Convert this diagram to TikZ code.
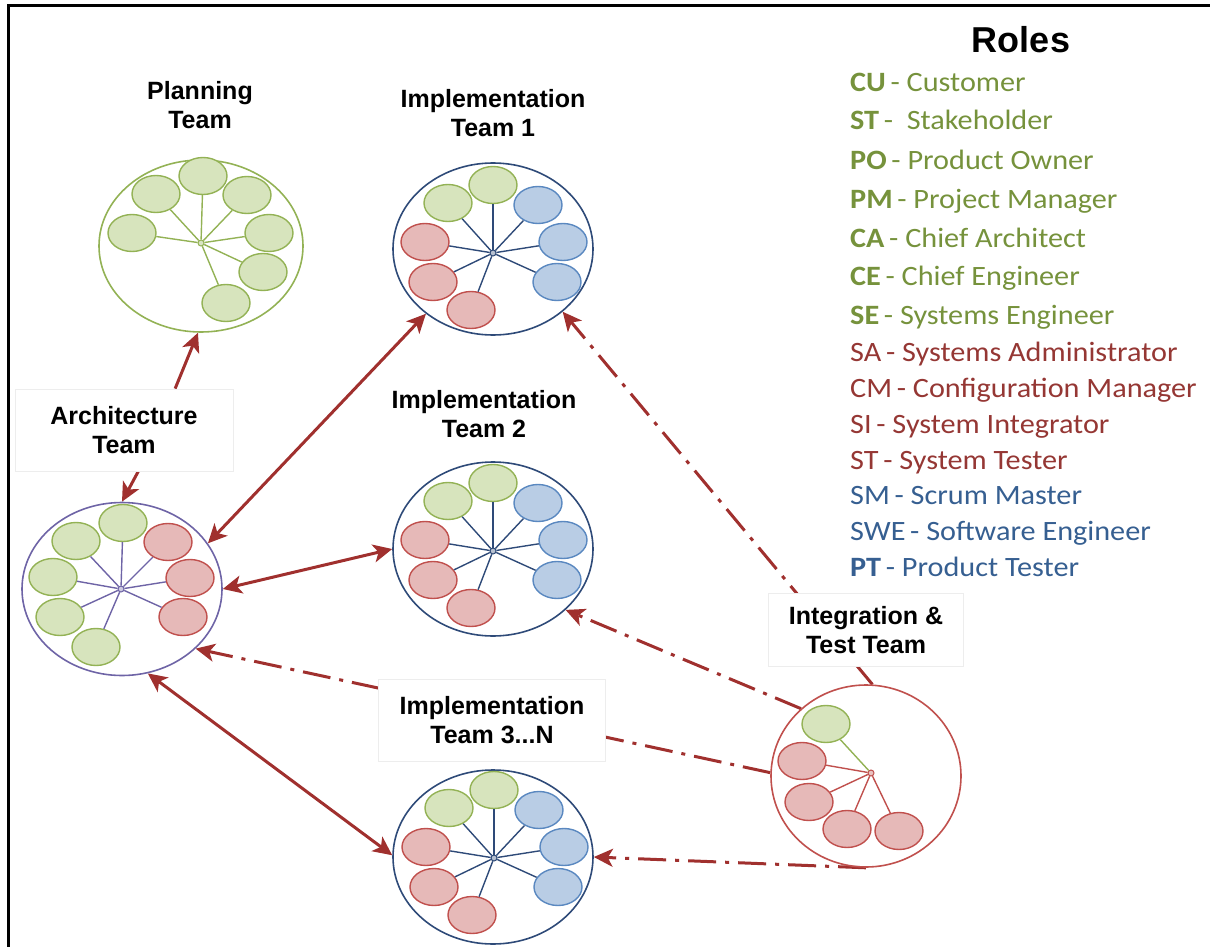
\documentclass[tikz,border=0pt]{standalone}
\usepackage{fontspec}
\setmainfont{Liberation Sans}
\newfontfamily\legendfont[FakeStretch=1.08]{Carlito}
\usetikzlibrary{shapes.geometric,arrows.meta}

\definecolor{fillgrn}{HTML}{D7E4BD}
\definecolor{linegrn}{HTML}{93B255}
\definecolor{fillred}{HTML}{E6B9B8}
\definecolor{linered}{HTML}{C0504D}
\definecolor{fillblu}{HTML}{B9CDE5}
\definecolor{lineblu}{HTML}{5A88C0}
\definecolor{navy}{HTML}{2E4A78}
\definecolor{violet}{HTML}{6E64A6}
\definecolor{linkred}{HTML}{A0302E}
\definecolor{rolegreen}{HTML}{76923C}
\definecolor{rolered}{HTML}{953734}
\definecolor{roleblue}{HTML}{365F91}

\pgfdeclarelayer{bg}
\pgfsetlayers{bg,main}

\tikzset{
  member/.style={ellipse, minimum width=48pt, minimum height=37pt, inner sep=0pt,
                 line width=1.4pt, draw=line#1, fill=fill#1},
  team/.style={ellipse, inner sep=0pt, line width=1.6pt},
  hub/.style={circle, minimum size=6pt, inner sep=0pt, draw=#1, fill=#1!35, line width=1pt},
  spoke/.style={draw=#1, line width=1.4pt},
  teamlabel/.style={font=\bfseries\fontsize{25}{29}\selectfont, align=center, inner sep=0pt},
  labelbox/.style={teamlabel, fill=white, draw=black!7, line width=0.8pt},
  headtip/.tip={Stealth[length=19pt,width=18pt,inset=5pt]},
  link/.style={draw=linkred, line width=3pt},
  oneway/.style={link, -headtip},
  twoway/.style={link, headtip-headtip},
  feedback/.style={link, dash pattern=on 28pt off 9pt on 4pt off 9pt, -headtip},
  role/.style={font=\legendfont\fontsize{28}{32}\selectfont, anchor=base west, inner sep=0pt},
}

\begin{document}
\begin{tikzpicture}[x=1pt, y=-1pt]
\useasboundingbox (0,0) rectangle (1210,947);

% frame
\draw[line width=3pt] (8,947) -- (8,6) -- (1210,6);

% team circles
\node[team, draw=linegrn, minimum width=204pt, minimum height=172pt] (planning) at (201,246) {};
\node[team, draw=navy, minimum width=200pt, minimum height=172pt] (impl1) at (493,249) {};
\node[team, draw=navy, minimum width=200pt, minimum height=174pt] (impl2) at (493,549) {};
\node[team, draw=navy, minimum width=200pt, minimum height=174pt] (impl3) at (493,857) {};
\node[team, draw=violet, minimum width=200pt, minimum height=173pt] (arch) at (122,589) {};
\node[team, draw=linered, minimum width=190pt, minimum height=182pt] (integ) at (866,776) {};

% planning team
\node[hub=linegrn] (ph) at (201,243) {};
\foreach \n/\dx/\dy in {1/-69/-10, 2/-45/-49, 3/2/-67, 4/46/-48, 5/68/-10, 6/62/29, 7/25/60}
  \node[member=grn] (p\n) at ([shift={(\dx,\dy)}]ph) {};
\foreach \n in {1,...,7} \draw[spoke=linegrn] (ph) -- (p\n);

% implementation teams
\foreach \t/\hx/\hy in {i1/493/253, i2/493/551, i3/494/858} {
  \node[hub=navy] (\t h) at (\hx,\hy) {};
  \foreach \n/\c/\dx/\dy in {g1/grn/-45/-50, g2/grn/0/-68, b1/blu/45/-48, b2/blu/70/-11,
                            b3/blu/64/29, r1/red/-68/-11, r2/red/-60/29, r3/red/-22/57}
    \node[member=\c] (\t\n) at ([shift={(\dx,\dy)}]\t h) {};
  \foreach \n in {g1,g2,b1,b2,b3,r1,r2,r3} \draw[spoke=navy] (\t h) -- (\t\n);
}

% architecture team
\node[hub=violet] (ah) at (121,589) {};
\foreach \n/\c/\dx/\dy in {a1/grn/-45/-48, a2/grn/2/-66, a3/red/47/-47, a4/grn/-68/-12,
                          a5/red/69/-11, a6/grn/-61/28, a7/red/62/28, a8/grn/-25/58}
  \node[member=\c] (\n) at ([shift={(\dx,\dy)}]ah) {};
\foreach \n in {a1,a2,a3,a4,a5,a6,a7,a8} \draw[spoke=violet] (ah) -- (\n);

% integration & test team
\node[hub=linered] (ih) at (871,773) {};
\foreach \n/\c/\dx/\dy in {t1/grn/-45/-49, t2/red/-69/-12, t3/red/-62/29, t4/red/-24/56, t5/red/28/58}
  \node[member=\c] (\n) at ([shift={(\dx,\dy)}]ih) {};
\draw[spoke=linegrn] (ih) -- (t1);
\foreach \n in {t2,t3,t4,t5} \draw[spoke=linered] (ih) -- (\n);

% team labels
\node[teamlabel] (planlbl) at (200,105) {Planning\\Team};
\node[teamlabel] (impl1lbl) at (493,113) {Implementation\\Team 1};
\node[teamlabel] (impl2lbl) at (484,414) {Implementation\\Team 2};
\node[labelbox, minimum width=218pt, minimum height=82pt] (archlbl) at (124,430) {Architecture\\Team};
\node[labelbox, minimum width=227pt, minimum height=82pt] (impl3lbl) at (492,720) {Implementation\\Team 3...N};
\node[labelbox, minimum width=195pt, minimum height=73pt] (integlbl) at (866,630) {Integration \&\\Test Team};

% connectors between teams
\begin{pgfonlayer}{bg}
\draw[oneway] (archlbl.39) -- (planning.268);
\draw[oneway] (archlbl.289) -- (arch.90);
\draw[twoway] (arch.28) -- (impl1.224);
\draw[twoway] (arch.0) -- (impl2.180);
\draw[twoway] (arch.287) -- (impl3.179);
\draw[feedback] (integ.178) -- (arch.321);
\draw[feedback] (integ.134) -- (impl2.320);
\draw[feedback] (integ.86) -- (impl1.318);
\draw[feedback] (integ.270) -- (impl3.0);
\end{pgfonlayer}

% roles legend
\node[font=\bfseries\fontsize{36}{40}\selectfont, anchor=base, inner sep=0pt] (roles) at (1021,53) {Roles};
\node[role, text=rolegreen] (cu) at (850,92) {\textbf{CU}\,- Customer};
\node[role, text=rolegreen] (stk) at (850,130) {\textbf{ST}\,-\ \ Stakeholder};
\node[role, text=rolegreen] (po) at (850,169) {\textbf{PO}\,- Product Owner};
\node[role, text=rolegreen] (pm) at (850,208) {\textbf{PM}\,- Project Manager};
\node[role, text=rolegreen] (ca) at (850,247) {\textbf{CA}\,- Chief Architect};
\node[role, text=rolegreen] (ce) at (850,285) {\textbf{CE}\,- Chief Engineer};
\node[role, text=rolegreen] (se) at (850,324) {\textbf{SE}\,- Systems Engineer};
\node[role, text=rolered] (sa) at (850,361) {SA\,- Systems Administrator};
\node[role, text=rolered] (cm) at (850,397) {CM\,- Configuration Manager};
\node[role, text=rolered] (si) at (850,433) {SI\,- System Integrator};
\node[role, text=rolered] (sts) at (850,469) {ST\,- System Tester};
\node[role, text=roleblue] (sm) at (850,504) {SM\,- Scrum Master};
\node[role, text=roleblue] (swe) at (850,540) {SWE\,- Software Engineer};
\node[role, text=roleblue] (pt) at (850,576) {\textbf{PT}\,- Product Tester};
\end{tikzpicture}
\end{document}
